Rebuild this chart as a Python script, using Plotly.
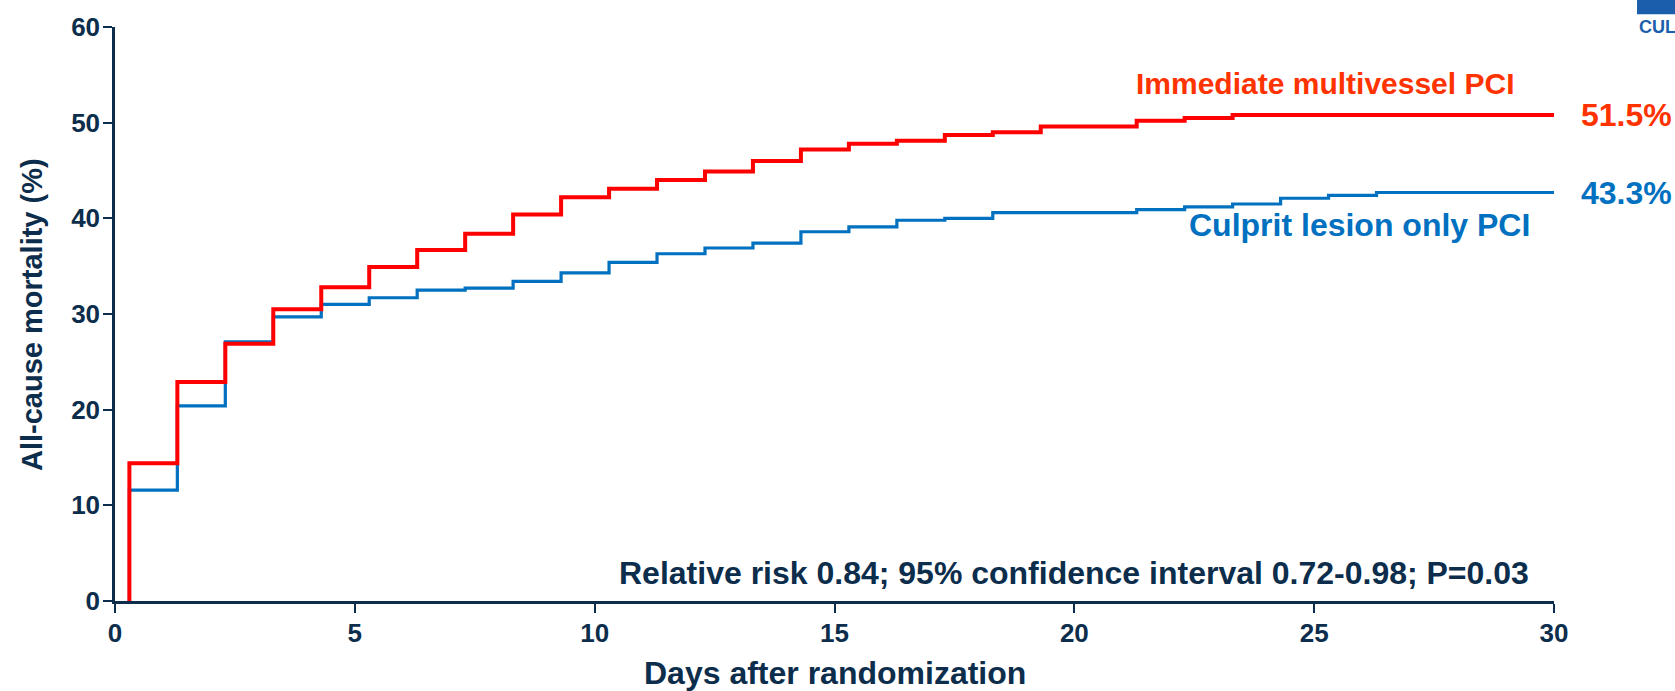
import plotly.graph_objects as go

# ---- data ----
red_days = [0.3, 1.3, 2.3, 3.3, 4.3, 5.3, 6.3, 7.3, 8.3, 9.3, 10.3, 11.3, 12.3,
            13.3, 14.3, 15.3, 16.3, 17.3, 18.3, 19.3, 21.3, 22.3, 23.3]
red_vals = [14.4, 22.9, 26.9, 30.5, 32.8, 34.9, 36.7, 38.4, 40.4, 42.2, 43.1, 44.0,
            44.9, 46.0, 47.2, 47.8, 48.1, 48.7, 49.0, 49.6, 50.2, 50.5, 50.8]

blue_days = [0.3, 1.3, 2.3, 3.3, 4.3, 5.3, 6.3, 7.3, 8.3, 9.3, 10.3, 11.3, 12.3,
             13.3, 14.3, 15.3, 16.3, 17.3, 18.3, 21.3, 22.3, 23.3, 24.3, 25.3, 26.3]
blue_vals = [11.6, 20.4, 27.1, 29.7, 31.0, 31.7, 32.5, 32.7, 33.4, 34.3, 35.4, 36.3,
             36.9, 37.4, 38.6, 39.1, 39.8, 40.0, 40.6, 40.9, 41.2, 41.5, 42.1, 42.4, 42.7]

end_day = 30
red_name = "Immediate multivessel PCI"
blue_name = "Culprit lesion only PCI"
red_final_label = "51.5%"
blue_final_label = "43.3%"
stats_text = "Relative risk 0.84; 95% confidence interval 0.72-0.98; P=0.03"
x_ticks = [0, 5, 10, 15, 20, 25, 30]
y_ticks = [0, 10, 20, 30, 40, 50, 60]

RED = "#FF0000"
RED_TXT = "#FF3300"
BLUE = "#0070C0"
NAVY = "#0C2D4B"
FONT = "Liberation Sans, Arial, sans-serif"


def step_xy(days, vals):
    xs = [days[0]] + list(days) + [end_day]
    ys = [0] + list(vals) + [vals[-1]]
    return xs, ys


bx, by = step_xy(blue_days, blue_vals)
rx, ry = step_xy(red_days, red_vals)

fig = go.Figure()
fig.add_trace(go.Scatter(x=bx, y=by, mode="lines", line=dict(color=BLUE, width=3.2, shape="hv"),
                         name=blue_name, showlegend=False, hoverinfo="skip"))
fig.add_trace(go.Scatter(x=rx, y=ry, mode="lines", line=dict(color=RED, width=4, shape="hv"),
                         name=red_name, showlegend=False, hoverinfo="skip"))

annotations = [
    dict(x=21.25, y=54.1, xref="x", yref="y", text=red_name, showarrow=False,
         xanchor="left", yanchor="middle",
         font=dict(family=FONT, size=30, weight="bold", color=RED_TXT)),
    dict(x=1.0175, y=red_vals[-1], xref="paper", yref="y", text=red_final_label, showarrow=False,
         xanchor="left", yanchor="middle",
         font=dict(family=FONT, size=32, weight="bold", color=RED_TXT)),
    dict(x=29.54, y=39.3, xref="x", yref="y", text=blue_name, showarrow=False,
         xanchor="right", yanchor="middle",
         font=dict(family=FONT, size=32, weight="bold", color=BLUE)),
    dict(x=1.0175, y=blue_vals[-1], xref="paper", yref="y", text=blue_final_label, showarrow=False,
         xanchor="left", yanchor="middle",
         font=dict(family=FONT, size=32, weight="bold", color=BLUE)),
    dict(x=29.51, y=2.9, xref="x", yref="y", text=stats_text, showarrow=False,
         xanchor="right", yanchor="middle",
         font=dict(family=FONT, size=32, weight="bold", color=NAVY)),
    dict(x=0.5, y=-0.125, xref="paper", yref="paper", text="Days after randomization",
         showarrow=False, xanchor="center", yanchor="middle",
         font=dict(family=FONT, size=32, weight="bold", color=NAVY)),
    dict(x=-0.0577, y=0.5, xref="paper", yref="paper", text="All-cause mortality (%)",
         showarrow=False, xanchor="center", yanchor="middle", textangle=-90,
         font=dict(family=FONT, size=29, weight="bold", color=NAVY)),
    dict(x=1.0577, y=1.0, xref="paper", yref="paper", text="CULPRIT-SHOCK",
         showarrow=False, xanchor="left", yanchor="middle",
         font=dict(family=FONT, size=18, weight="bold", color="#1B5EAB")),
]

shapes = [
    dict(type="rect", xref="paper", yref="paper", x0=1.0577, x1=1.1, y0=1.0224, y1=1.05,
         fillcolor="#1B5EAB", line=dict(width=0)),
]

fig.update_layout(
    width=1675, height=691,
    margin=dict(l=115, r=121, t=20, b=90),
    paper_bgcolor="white", plot_bgcolor="white",
    annotations=annotations, shapes=shapes,
    showlegend=False,
)
fig.update_xaxes(range=[0, 30], tickvals=x_ticks, ticks="outside", ticklen=9, tickwidth=2.2,
                 tickcolor=NAVY, showline=True, linecolor=NAVY, linewidth=2.5,
                 showgrid=False, zeroline=False, ticklabelstandoff=-2,
                 tickfont=dict(family=FONT, size=26, weight="bold", color=NAVY))
fig.update_yaxes(range=[0, 60], tickvals=y_ticks, ticks="outside", ticklen=9, tickwidth=2.2,
                 tickcolor=NAVY, showline=True, linecolor=NAVY, linewidth=2.5,
                 showgrid=False, zeroline=False, ticklabelstandoff=-2,
                 tickfont=dict(family=FONT, size=26, weight="bold", color=NAVY))

fig.write_html("out.html", config={"displayModeBar": False},
               post_script="document.body.style.margin='0px';document.body.style.overflow='hidden';")
